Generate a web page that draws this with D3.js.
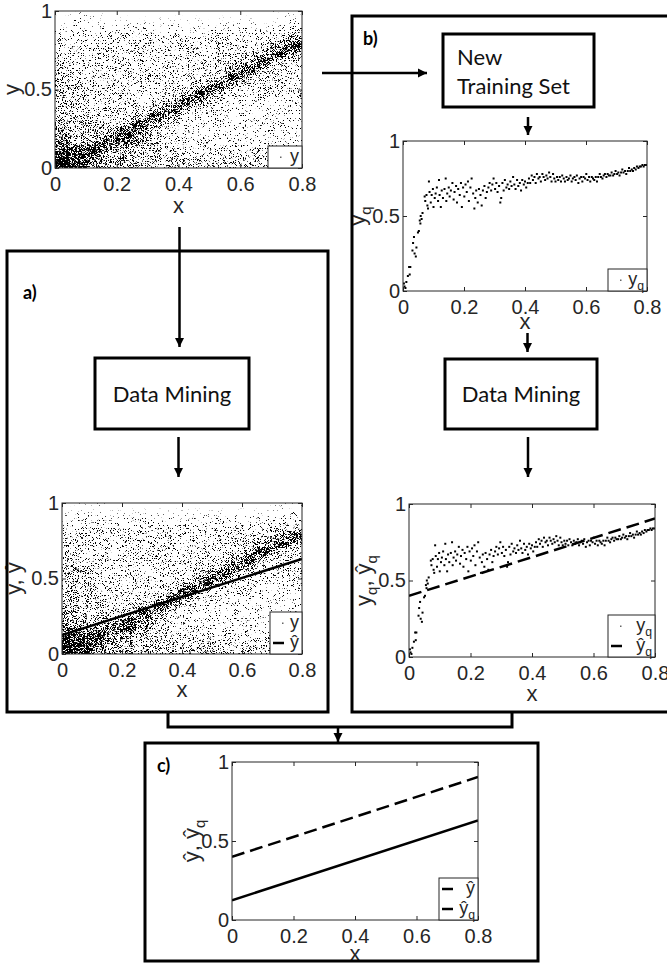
<!DOCTYPE html>
<html>
<head>
<meta charset="utf-8">
<script src="https://cdn.jsdelivr.net/npm/d3@7"></script>
<style>
  body { margin: 0; background: #fff; }
  svg { display: block; }
</style>
</head>
<body>
<svg id="fig" width="667" height="963"></svg>
<script>
// ---- data ----
const xTicks = [0, 0.2, 0.4, 0.6, 0.8];
const yTicks = [0, 0.5, 1];

// density of the full training set y(x): rows from y=1 down to y=0 (step 0.05),
// columns x=0..0.8 (step 0.05), level 0 (empty) .. 9 (black)
const yDensity = [
  "0110000000000011",
  "1211111111111112",
  "2222232222222223",
  "3333333333333345",
  "3333333333333458",
  "3333333333334585",
  "3333333333335843",
  "4333333333358433",
  "4333333333485333",
  "4433333334853333",
  "4433333348533333",
  "4433333485332222",
  "4433334853322222",
  "4443348533222222",
  "5443485332222222",
  "5544854332222222",
  "6557854333222222",
  "7786544333333333",
  "8875544433333333",
  "9865554444444444"
];

// the new (quantile) training set yq
const yqPoints = [
  [0.003, 0.05], [0.005, 0.03], [0.008, 0.02], [0.011, 0.06], [0.016, 0.10], [0.020, 0.16],
  [0.022, 0.11], [0.024, 0.16], [0.031, 0.27], [0.033, 0.32], [0.036, 0.36], [0.038, 0.25],
  [0.042, 0.23], [0.044, 0.29], [0.049, 0.39], [0.052, 0.40], [0.055, 0.47], [0.057, 0.45],
  [0.058, 0.50], [0.061, 0.48], [0.064, 0.52], [0.071, 0.63], [0.073, 0.60], [0.077, 0.64],
  [0.080, 0.57], [0.082, 0.55], [0.085, 0.73], [0.087, 0.66], [0.091, 0.59], [0.094, 0.64],
  [0.098, 0.68], [0.100, 0.56], [0.104, 0.62], [0.107, 0.65], [0.111, 0.69], [0.115, 0.60],
  [0.118, 0.74], [0.120, 0.64], [0.124, 0.56], [0.127, 0.67], [0.131, 0.62], [0.136, 0.68],
  [0.140, 0.75], [0.142, 0.60], [0.145, 0.65], [0.150, 0.69], [0.153, 0.63], [0.157, 0.67],
  [0.162, 0.72], [0.166, 0.61], [0.169, 0.66], [0.174, 0.70], [0.177, 0.59], [0.181, 0.68],
  [0.186, 0.64], [0.190, 0.72], [0.193, 0.56], [0.197, 0.69], [0.201, 0.63], [0.205, 0.71],
  [0.209, 0.66], [0.213, 0.73], [0.216, 0.60], [0.221, 0.69], [0.225, 0.75], [0.230, 0.65],
  [0.234, 0.55], [0.237, 0.62], [0.240, 0.67], [0.245, 0.59], [0.249, 0.68], [0.254, 0.64],
  [0.258, 0.57], [0.262, 0.67], [0.267, 0.70], [0.271, 0.62], [0.275, 0.66], [0.280, 0.69],
  [0.284, 0.72], [0.289, 0.67], [0.293, 0.71], [0.297, 0.75], [0.302, 0.68], [0.306, 0.72],
  [0.310, 0.66], [0.315, 0.70], [0.319, 0.59], [0.322, 0.62], [0.326, 0.72], [0.330, 0.67],
  [0.334, 0.74], [0.339, 0.69], [0.343, 0.71], [0.348, 0.68], [0.352, 0.73], [0.356, 0.70],
  [0.361, 0.76], [0.365, 0.71], [0.369, 0.68], [0.374, 0.74], [0.378, 0.70], [0.383, 0.72],
  [0.387, 0.67], [0.391, 0.74], [0.396, 0.71], [0.400, 0.73], [0.404, 0.69], [0.409, 0.72],
  [0.413, 0.75], [0.417, 0.72], [0.422, 0.77], [0.426, 0.74], [0.431, 0.76], [0.435, 0.72],
  [0.439, 0.78], [0.444, 0.75], [0.448, 0.76], [0.452, 0.73], [0.457, 0.78], [0.461, 0.76],
  [0.466, 0.74], [0.470, 0.77], [0.474, 0.75], [0.479, 0.79], [0.483, 0.76], [0.487, 0.73],
  [0.492, 0.78], [0.496, 0.75], [0.500, 0.73], [0.505, 0.76], [0.509, 0.74], [0.514, 0.76],
  [0.518, 0.73], [0.522, 0.77], [0.527, 0.75], [0.531, 0.73], [0.536, 0.76], [0.540, 0.74],
  [0.544, 0.75], [0.549, 0.77], [0.553, 0.73], [0.557, 0.75], [0.562, 0.76], [0.566, 0.74],
  [0.570, 0.77], [0.575, 0.72], [0.579, 0.75], [0.584, 0.76], [0.588, 0.73], [0.592, 0.76],
  [0.597, 0.75], [0.601, 0.78], [0.605, 0.74], [0.610, 0.76], [0.614, 0.73], [0.619, 0.76],
  [0.623, 0.75], [0.627, 0.74], [0.632, 0.76], [0.636, 0.73], [0.640, 0.76], [0.645, 0.78],
  [0.649, 0.76], [0.654, 0.75], [0.658, 0.77], [0.662, 0.78], [0.667, 0.76], [0.671, 0.78],
  [0.675, 0.77], [0.680, 0.77], [0.684, 0.79], [0.689, 0.77], [0.693, 0.78], [0.697, 0.80],
  [0.702, 0.78], [0.706, 0.79], [0.710, 0.77], [0.715, 0.79], [0.719, 0.81], [0.723, 0.79],
  [0.728, 0.80], [0.732, 0.78], [0.737, 0.80], [0.741, 0.82], [0.745, 0.80], [0.750, 0.81],
  [0.754, 0.80], [0.758, 0.82], [0.763, 0.81], [0.767, 0.83], [0.772, 0.82], [0.776, 0.83],
  [0.780, 0.83], [0.785, 0.84], [0.789, 0.83], [0.793, 0.84], [0.798, 0.84]
];

// fitted regression lines
const yHatFit = [[0, 0.125], [0.8, 0.63]];
const yqHatFit = [[0, 0.40], [0.8, 0.905]];

// ---- layout ----
const AXIS_FONT = "'Liberation Sans', Arial, sans-serif";
const FLOW_FONT = "Lato, 'Open Sans', sans-serif";
const INK = "#262626";

const svg = d3.select("#fig");
const defs = svg.append("defs");

// grain filter: turns a smooth density into a speckle of dots
const grain = defs.append("filter").attr("id", "grain")
  .attr("color-interpolation-filters", "sRGB");
grain.append("feGaussianBlur").attr("in", "SourceGraphic").attr("stdDeviation", 2.5).attr("result", "soft");
grain.append("feTurbulence").attr("type", "fractalNoise").attr("baseFrequency", 2.4)
  .attr("numOctaves", 1).attr("seed", 7).attr("result", "noise");
grain.append("feColorMatrix").attr("in", "noise").attr("type", "matrix")
  .attr("values", "0 0 0 0 0  0 0 0 0 0  0 0 0 0 0  2.4 0 0 0 -0.7").attr("result", "thr");
grain.append("feComposite").attr("in", "soft").attr("in2", "thr").attr("operator", "arithmetic")
  .attr("k1", 0).attr("k2", 1).attr("k3", -1).attr("k4", 0).attr("result", "diff");
grain.append("feComponentTransfer").attr("in", "diff")
  .append("feFuncA").attr("type", "linear").attr("slope", 8).attr("intercept", 0);

defs.append("marker").attr("id", "head")
  .attr("viewBox", "0 0 10 10").attr("refX", 10).attr("refY", 5)
  .attr("markerUnits", "userSpaceOnUse").attr("markerWidth", 9).attr("markerHeight", 10)
  .attr("orient", "auto")
  .append("path").attr("d", "M0,0 L10,5 L0,10 Z").attr("fill", "#000");

const panels = [
  { id: "top", x0: 55, y0: 11, x1: 302, y1: 168, xLabelY: 207, yLabelX: 14,
    yLabel: [["y", 0]], legendW: 34,
    legend: [{ kind: "dot", label: [["y", 0]] }],
    layers: ["density"] },
  { id: "a", x0: 62, y0: 503, x1: 302, y1: 654, xLabelY: 691, yLabelX: 16,
    yLabel: [["y, ŷ", 0]], legendW: 32,
    legend: [{ kind: "dot", label: [["y", 0]] }, { kind: "solid", label: [["ŷ", 0]] }],
    layers: ["density", "yHat"] },
  { id: "b1", x0: 403, y0: 141, x1: 647, y1: 291, xLabelY: 323, yLabelX: 360,
    yLabel: [["y", 0], ["q", 1]], legendW: 39,
    legend: [{ kind: "dot", label: [["y", 0], ["q", 1]] }],
    layers: ["yq"] },
  { id: "b2", x0: 409, y0: 504, x1: 655, y1: 657, xLabelY: 695, yLabelX: 366,
    yLabel: [["y", 0], ["q", 1], [", ŷ", 0], ["q", 1]], legendW: 47,
    legend: [{ kind: "dot", label: [["y", 0], ["q", 1]] }, { kind: "solid", label: [["ŷ", 0], ["q", 1]] }],
    layers: ["yq", "yqHat"] },
  { id: "c", x0: 232, y0: 762, x1: 478, y1: 920, xLabelY: 955, yLabelX: 194,
    yLabel: [["ŷ, ŷ", 0], ["q", 1]], legendW: 39,
    legend: [{ kind: "solid", label: [["ŷ", 0]] }, { kind: "solid", label: [["ŷ", 0], ["q", 1]] }],
    layers: ["yHat", "yqHat"] }
];

// write a label made of [text, isSubscript] parts
function writeParts(text, parts, size) {
  let shift = 0;
  parts.forEach(([s, sub]) => {
    const want = sub ? size * 0.28 : 0;
    const span = text.append("tspan")
      .attr("font-size", sub ? size * 0.68 : size)
      .text(s);
    if (want - shift !== 0) span.attr("dy", want - shift);
    shift = want;
  });
}

const layerDraw = {
  density(g, x, y) {
    const nCols = yDensity[0].length;
    const nRows = yDensity.length;
    const dx = 0.8 / nCols;
    const dy = 1 / nRows;
    const cells = [];
    yDensity.forEach((row, r) =>
      row.split("").forEach((ch, c) => cells.push({ c, r, v: +ch })));
    // edge cells are stretched past the frame so the blur does not thin the borders
    const pad = 12;
    g.append("g").attr("filter", "url(#grain)")
      .selectAll("rect").data(cells).join("rect")
      .attr("x", d => x(d.c * dx) - (d.c === 0 ? pad : 0))
      .attr("width", d => x((d.c + 1) * dx) - x(d.c * dx)
        + (d.c === 0 ? pad : 0) + (d.c === nCols - 1 ? pad : 0))
      .attr("y", d => y(1 - d.r * dy) - (d.r === 0 ? pad : 0))
      .attr("height", d => y(1 - (d.r + 1) * dy) - y(1 - d.r * dy)
        + (d.r === 0 ? pad : 0) + (d.r === nRows - 1 ? pad : 0))
      .attr("fill", "#000")
      .attr("fill-opacity", d => 0.85 * Math.pow(d.v / 9, 1.1));
  },
  yq(g, x, y) {
    g.selectAll("rect.pt").data(yqPoints).join("rect")
      .attr("class", "pt")
      .attr("x", d => x(d[0]) - 1).attr("y", d => y(d[1]) - 1)
      .attr("width", 2).attr("height", 2).attr("fill", "#000");
  },
  yHat(g, x, y) {
    g.append("path").datum(yHatFit)
      .attr("d", d3.line().x(d => x(d[0])).y(d => y(d[1])))
      .attr("fill", "none").attr("stroke", "#000").attr("stroke-width", 2.5);
  },
  yqHat(g, x, y) {
    g.append("path").datum(yqHatFit)
      .attr("d", d3.line().x(d => x(d[0])).y(d => y(d[1])))
      .attr("fill", "none").attr("stroke", "#000").attr("stroke-width", 2.5)
      .attr("stroke-dasharray", "13,6");
  }
};

function drawPanel(p) {
  const x = d3.scaleLinear().domain([0, 0.8]).range([p.x0, p.x1]);
  const y = d3.scaleLinear().domain([0, 1]).range([p.y1, p.y0]);
  const g = svg.append("g").attr("id", `panel-${p.id}`);

  g.append("rect").attr("x", p.x0).attr("y", p.y0)
    .attr("width", p.x1 - p.x0).attr("height", p.y1 - p.y0).attr("fill", "#fff");

  defs.append("clipPath").attr("id", `clip-${p.id}`)
    .append("rect").attr("x", p.x0).attr("y", p.y0)
    .attr("width", p.x1 - p.x0).attr("height", p.y1 - p.y0);
  const plot = g.append("g").attr("clip-path", `url(#clip-${p.id})`);
  p.layers.forEach(name => layerDraw[name](plot, x, y));

  const style = sel => {
    sel.attr("font-family", AXIS_FONT).attr("font-size", 20);
    sel.select(".domain").remove();
    sel.selectAll(".tick line").attr("stroke", INK);
    sel.selectAll(".tick text").attr("fill", INK);
  };
  g.append("g").attr("transform", `translate(0,${p.y1})`)
    .call(d3.axisBottom(x).tickValues(xTicks).tickFormat(d => d).tickSize(-4).tickPadding(9))
    .call(style);
  g.append("g").attr("transform", `translate(0,${p.y0})`)
    .call(d3.axisTop(x).tickValues(xTicks).tickFormat("").tickSize(-4))
    .call(style);
  g.append("g").attr("transform", `translate(${p.x0},0)`)
    .call(d3.axisLeft(y).tickValues(yTicks).tickFormat(d => d).tickSize(-4).tickPadding(3))
    .call(style);
  g.append("g").attr("transform", `translate(${p.x1},0)`)
    .call(d3.axisRight(y).tickValues(yTicks).tickFormat("").tickSize(-4))
    .call(style);

  g.append("rect").attr("x", p.x0).attr("y", p.y0)
    .attr("width", p.x1 - p.x0).attr("height", p.y1 - p.y0)
    .attr("fill", "none").attr("stroke", INK).attr("stroke-width", 1);

  // axis titles
  g.append("text").attr("x", (p.x0 + p.x1) / 2).attr("y", p.xLabelY + 6)
    .attr("text-anchor", "middle").attr("font-family", AXIS_FONT)
    .attr("font-size", 22).attr("fill", INK).text("x");
  // rotated: the baseline sits right of the visual centre
  const yl = g.append("text")
    .attr("transform", `translate(${p.yLabelX + 5},${(p.y0 + p.y1) / 2}) rotate(-90)`)
    .attr("text-anchor", "middle").attr("font-family", AXIS_FONT)
    .attr("fill", INK);
  writeParts(yl, p.yLabel, 22);

  // legend in the lower right corner
  const rowH = 20;
  const lh = p.legend.length * rowH + 2;
  const lx = p.x1 - p.legendW;
  const ly = p.y1 - lh;
  const lg = g.append("g");
  lg.append("rect").attr("x", lx).attr("y", ly).attr("width", p.legendW).attr("height", lh)
    .attr("fill", "#fff").attr("stroke", INK).attr("stroke-width", 1);
  p.legend.forEach((e, i) => {
    const cy = ly + 1 + rowH * (i + 0.5);
    if (e.kind === "dot") {
      lg.append("rect").attr("x", lx + 12).attr("y", cy - 0.5).attr("width", 1.5).attr("height", 1.5)
        .attr("fill", "#666");
    } else {
      lg.append("line").attr("x1", lx + 3).attr("x2", lx + 14).attr("y1", cy).attr("y2", cy)
        .attr("stroke", "#000").attr("stroke-width", 2.5);
    }
    const t = lg.append("text").attr("x", lx + p.legendW - 3).attr("y", cy + 5)
      .attr("text-anchor", "end").attr("font-family", AXIS_FONT).attr("fill", INK);
    writeParts(t, e.label, 18);
  });
}

panels.forEach(drawPanel);

// ---- flow chart ----
const frames = [
  { x: 7, y: 251, w: 321, h: 461 },
  { x: 352, y: 16, w: 320, h: 696 },
  { x: 145, y: 743, w: 393, h: 218 }
];
svg.selectAll("rect.frame").data(frames).join("rect").attr("class", "frame")
  .attr("x", d => d.x).attr("y", d => d.y).attr("width", d => d.w).attr("height", d => d.h)
  .attr("fill", "none").attr("stroke", "#000").attr("stroke-width", 3);

const steps = [
  { x: 95, y: 358, w: 154, h: 71, lines: ["Data Mining"], align: "middle" },
  { x: 445, y: 359, w: 152, h: 70, lines: ["Data Mining"], align: "middle" },
  { x: 443, y: 34, w: 151, h: 73, lines: ["New", "Training Set"], align: "start" }
];
steps.forEach(s => {
  svg.append("rect").attr("x", s.x).attr("y", s.y).attr("width", s.w).attr("height", s.h)
    .attr("fill", "#fff").attr("stroke", "#000").attr("stroke-width", 3);
  const t = svg.append("text").attr("font-family", FLOW_FONT).attr("font-size", 22).attr("fill", "#111");
  if (s.align === "middle") {
    t.attr("x", s.x + s.w / 2).attr("y", s.y + s.h / 2 + 8).attr("text-anchor", "middle").text(s.lines[0]);
  } else {
    s.lines.forEach((ln, i) => t.append("tspan").attr("x", s.x + 14).attr("y", s.y + 31 + i * 29).text(ln));
  }
});

const tags = [
  { x: 23, y: 299, text: "a)" },
  { x: 363, y: 45, text: "b)" },
  { x: 157, y: 772, text: "c)" }
];
svg.selectAll("text.tag").data(tags).join("text").attr("class", "tag")
  .attr("x", d => d.x).attr("y", d => d.y)
  .attr("font-family", FLOW_FONT).attr("font-weight", "bold").attr("font-size", 18)
  .text(d => d.text);

const arrows = [
  [179.5, 227, 179.5, 347],
  [322, 73, 427, 73],
  [528, 117, 528, 135],
  [527.5, 333, 527.5, 352],
  [178.5, 437, 178.5, 477],
  [528, 437, 528, 477],
  [338, 727, 338, 742]
];
svg.selectAll("line.arrow").data(arrows).join("line").attr("class", "arrow")
  .attr("x1", d => d[0]).attr("y1", d => d[1]).attr("x2", d => d[2]).attr("y2", d => d[3])
  .attr("stroke", "#000").attr("stroke-width", 2.5).attr("marker-end", "url(#head)");

svg.append("path")
  .attr("d", d3.line()([[168, 712], [168, 727], [512, 727], [512, 712]]))
  .attr("fill", "none").attr("stroke", "#000").attr("stroke-width", 3);
</script>
</body>
</html>
